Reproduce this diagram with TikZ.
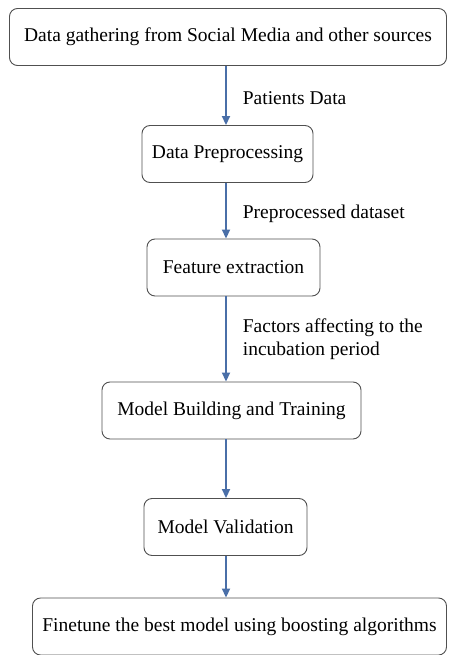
\documentclass[tikz,border=0pt]{standalone}
\usepackage{fontspec}
\setmainfont{Liberation Serif}
\usetikzlibrary{arrows.meta}
\definecolor{flowblue}{HTML}{4A6FA8}
\definecolor{boxgray}{HTML}{505050}

\begin{document}
\begin{tikzpicture}[x=1pt,y=-1pt,
  stepbox/.style={draw=boxgray,line width=0.9pt,rounded corners=8pt,minimum height=57pt,inner sep=0pt,font=\rmfamily\fontsize{19.5}{23}\selectfont},
  flow/.style={draw=flowblue,line width=1.8pt,-{Triangle[length=9pt,width=8pt]}},
  lab/.style={right,inner sep=0pt,xshift=16pt,align=left,font=\rmfamily\fontsize{19.5}{23}\selectfont}]
\useasboundingbox (0,0) rectangle (448,655);
\coordinate (ax) at (226,0);

\node[stepbox,minimum width=437pt] (gather) at (228,37) {Data gathering from Social Media and other sources};
\node[stepbox,minimum width=171pt] (prep) at (227.5,154) {Data Preprocessing};
\node[stepbox,minimum width=173pt] (feat) at (233.5,267.5) {Feature extraction};
\node[stepbox,minimum width=259pt] (build) at (231.5,410.5) {Model Building and Training};
\node[stepbox,minimum width=163pt] (valid) at (225.5,527) {Model Validation};
\node[stepbox,minimum width=414pt] (tune) at (239.5,626.5) {Finetune the best model using boosting algorithms};

\draw[flow] (gather.south -| ax) -- (prep.north -| ax) node[lab,pos=0.55] {Patients Data};
\draw[flow] (prep.south -| ax) -- (feat.north -| ax) node[lab,pos=0.55] {Preprocessed dataset};
\draw[flow] (feat.south -| ax) -- (build.north -| ax) node[lab,pos=0.5] {Factors affecting to the\\incubation period};
\draw[flow] (build.south -| ax) -- (valid.north -| ax);
\draw[flow] (valid.south -| ax) -- (tune.north -| ax);
\end{tikzpicture}
\end{document}
